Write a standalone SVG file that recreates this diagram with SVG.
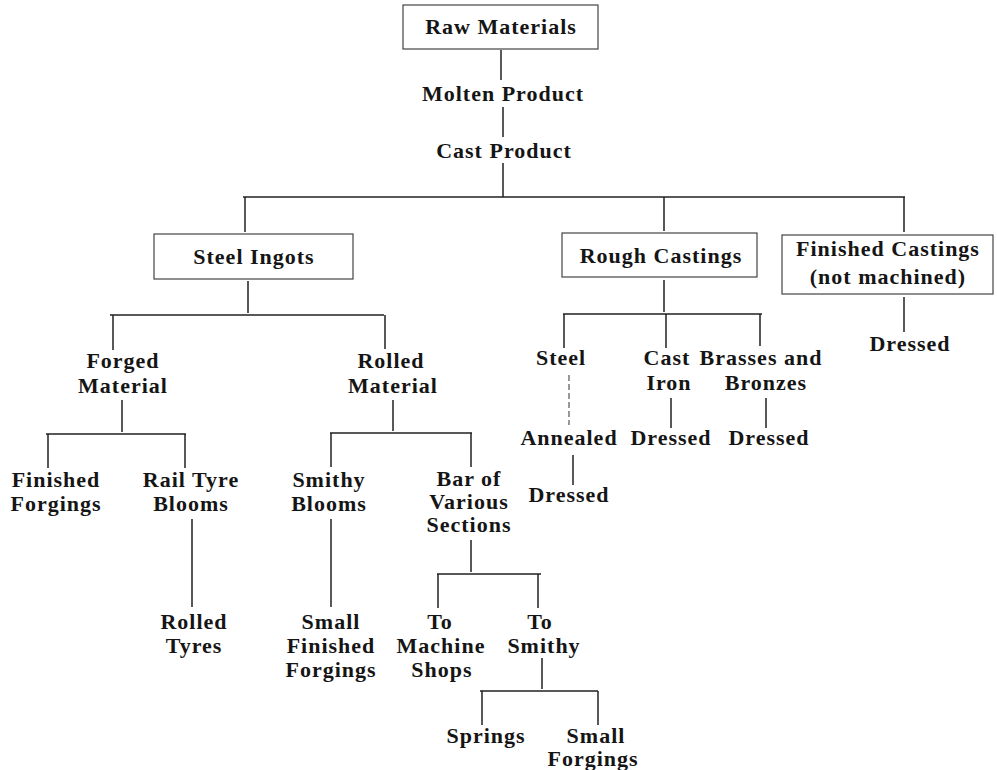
<svg xmlns="http://www.w3.org/2000/svg" width="997" height="770" viewBox="0 0 997 770">
<style>
text{font-family:"Liberation Serif","Times New Roman",serif;font-weight:bold;font-size:22px;fill:#151515;text-anchor:middle;letter-spacing:1px}
.box{fill:none;stroke:#444;stroke-width:1.2}
.ln{stroke:#222;stroke-width:1.5;fill:none}
.faint{stroke:#555;stroke-width:1.2;stroke-dasharray:6 3}
</style>
<rect width="997" height="770" fill="#fff"/>
<g id="connectors">
<path class="ln" d="M501 50V80M503 107V137M503 163V197M243 197H905M245 197V232M664 197V231M904 197V232"/>
<path class="ln" d="M248 281V313M110 315H384M113 315V350M385 315V349"/>
<path class="ln" d="M122 400V432M46 434H186M48 434V468M185 434V468M192 519V607"/>
<path class="ln" d="M393 400V431M330 433H472M331 433V467M471 433V467M331 519V607"/>
<path class="ln" d="M471 540V572M437 574H541M438 574V608M538 574V608M542 658V689M480 691H598M482 691V725M598 691V725"/>
<path class="ln" d="M664 280V312M563 314H762M564 314V348M666 314V348M760 314V346M671 398V428M766 398V428M573 455V485"/>
<path class="faint" d="M569 375V425"/>
<path class="ln" d="M904 297V332"/>
</g>
<g id="raw-materials"><rect class="box" x="403" y="5" width="195" height="44"/><text x="501" y="34">Raw Materials</text></g>
<g id="molten-product"><text x="503" y="101">Molten Product</text></g>
<g id="cast-product"><text x="504" y="158">Cast Product</text></g>
<g id="steel-ingots"><rect class="box" x="154" y="234" width="199" height="45"/><text x="254" y="264">Steel Ingots</text></g>
<g id="rough-castings"><rect class="box" x="562" y="233" width="195" height="44"/><text x="661" y="263">Rough Castings</text></g>
<g id="finished-castings"><rect class="box" x="782" y="235" width="211" height="59"/><text x="888" y="256">Finished Castings</text><text x="888" y="284">(not machined)</text></g>
<g id="dressed-fc"><text x="910" y="351">Dressed</text></g>
<g id="forged-material"><text x="123" y="368">Forged</text><text x="123" y="393">Material</text></g>
<g id="rolled-material"><text x="391" y="368">Rolled</text><text x="393" y="393">Material</text></g>
<g id="finished-forgings"><text x="56" y="487">Finished</text><text x="56" y="511">Forgings</text></g>
<g id="rail-tyre-blooms"><text x="191" y="487">Rail Tyre</text><text x="191" y="511">Blooms</text></g>
<g id="rolled-tyres"><text x="194" y="629">Rolled</text><text x="194" y="653">Tyres</text></g>
<g id="smithy-blooms"><text x="329" y="487">Smithy</text><text x="329" y="511">Blooms</text></g>
<g id="small-finished-forgings"><text x="331" y="629">Small</text><text x="331" y="653">Finished</text><text x="331" y="677">Forgings</text></g>
<g id="bar-various-sections"><text x="469" y="486">Bar of</text><text x="469" y="509">Various</text><text x="469" y="532">Sections</text></g>
<g id="to-machine-shops"><text x="440" y="629">To</text><text x="441" y="653">Machine</text><text x="442" y="677">Shops</text></g>
<g id="to-smithy"><text x="540" y="629">To</text><text x="544" y="653">Smithy</text></g>
<g id="springs"><text x="486" y="743">Springs</text></g>
<g id="small-forgings"><text x="596" y="743">Small</text><text x="593" y="766">Forgings</text></g>
<g id="steel"><text x="561" y="365">Steel</text></g>
<g id="cast-iron"><text x="667" y="365">Cast</text><text x="669" y="390">Iron</text></g>
<g id="brasses-bronzes"><text x="761" y="365">Brasses and</text><text x="766" y="390">Bronzes</text></g>
<g id="annealed"><text x="569" y="445">Annealed</text></g>
<g id="dressed-ci"><text x="671" y="445">Dressed</text></g>
<g id="dressed-bb"><text x="769" y="445">Dressed</text></g>
<g id="dressed-steel"><text x="569" y="502">Dressed</text></g>
</svg>
